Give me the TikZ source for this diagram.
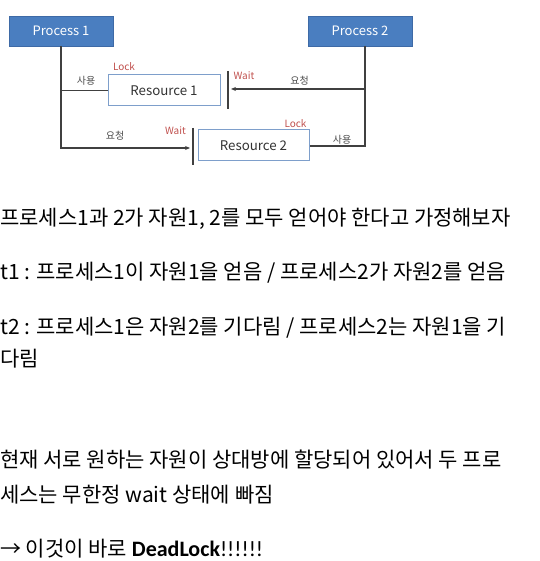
\documentclass[tikz,border=0pt]{standalone}
\usepackage{fontspec}
\setmainfont{Noto Sans CJK KR}
\newfontfamily\latinbold{Carlito}
\usetikzlibrary{arrows.meta}
\definecolor{procfill}{HTML}{4A7EC0}
\definecolor{procdraw}{HTML}{3E6AA6}
\definecolor{resdraw}{HTML}{7E9FCB}
\definecolor{lockred}{HTML}{C0504D}
\definecolor{linegray}{HTML}{404040}
\tikzset{
  procbox/.style={rectangle, fill=procfill, draw=procdraw, line width=0.8pt, minimum width=104pt, minimum height=30pt, inner sep=0pt, text=white, font=\fontsize{13}{15}\selectfont},
  resbox/.style={rectangle, fill=white, draw=resdraw, line width=1pt, minimum width=111pt, minimum height=31pt, inner sep=0pt, text=black!80, font=\fontsize{13.3}{15}\selectfont},
  conn/.style={draw=linegray, line width=1.1pt},
  waitbar/.style={draw=linegray, line width=1.3pt},
  redlbl/.style={text=lockred, font=\fontsize{10}{11}\selectfont, inner sep=0pt},
  grylbl/.style={text=black!70, font=\fontsize{10}{11}\selectfont, inner sep=0pt},
  bodytxt/.style={anchor=base west, inner sep=0pt, font=\fontsize{21}{24}\selectfont}
}
\begin{document}
\begin{tikzpicture}[x=1pt,y=-1pt]
\useasboundingbox (0,0) rectangle (539,561);
% processes
\node[procbox] (P1) at (61,31) {Process 1};
\node[procbox] (P2) at (360,31) {Process 2};
% resources
\node[resbox, minimum width=112pt] (R1) at (164,90.5) {Resource 1};
\node[resbox] (R2) at (253.5,145.5) {Resource 2};
% wait bars
\coordinate (W1t) at (228,71);
\coordinate (W1b) at (228,109);
\coordinate (W2t) at (193,128);
\coordinate (W2b) at (193,165);
\draw[waitbar] (W1t) -- (W1b);
\draw[waitbar] (W2t) -- (W2b);
% connectors
\coordinate (P2s) at (365,46);
\coordinate (P1turn) at (61,148);
\coordinate (W2a) at (190,148);
\coordinate (P2turn) at (365,146);
\coordinate (P2br) at (365,89);
\coordinate (W1a) at (231,89);
\draw[conn, -{Stealth[length=5pt,width=4pt]}] (P1.south) -- (P1turn) -- (W2a);
\draw[conn] (P1.south |- R1.west) -- (R1.west);
\draw[conn] (P2s) -- (P2turn) -- (R2.east |- P2turn);
\draw[conn, -{Stealth[length=5pt,width=4pt]}] (P2br) -- (W1a);
% labels
\node[redlbl] (L1) at (124,67) {Lock};
\node[grylbl] (U1) at (86,81) {사용};
\node[redlbl] (Wt1) at (244,76) {Wait};
\node[grylbl] (Q1) at (299.5,81) {요청};
\node[redlbl] (Wt2) at (175.5,131) {Wait};
\node[grylbl] (Q2) at (115,136) {요청};
\node[redlbl] (L2) at (295.5,124) {Lock};
\node[grylbl] (U2) at (342,140) {사용};
% body text
\node[bodytxt] (t1) at (0,225) {프로세스1과 2가 자원1, 2를 모두 얻어야 한다고 가정해보자};
\node[bodytxt] (t2) at (0,279) {t1 : 프로세스1이 자원1을 얻음 / 프로세스2가 자원2를 얻음};
\node[bodytxt] (t3) at (0,334) {t2 : 프로세스1은 자원2를 기다림 / 프로세스2는 자원1을 기};
\node[bodytxt] (t4) at (0,366) {다림};
\node[bodytxt] (t5) at (0,467) {현재 서로 원하는 자원이 상대방에 할당되어 있어서 두 프로};
\node[bodytxt] (t6) at (0,502) {세스는 무한정 wait 상태에 빠짐};
\node[bodytxt] (t7) at (0,556) {→ 이것이 바로 {\latinbold\fontsize{22}{24}\selectfont{\bfseries DeadLock}!!!!!!}};
\end{tikzpicture}
\end{document}
